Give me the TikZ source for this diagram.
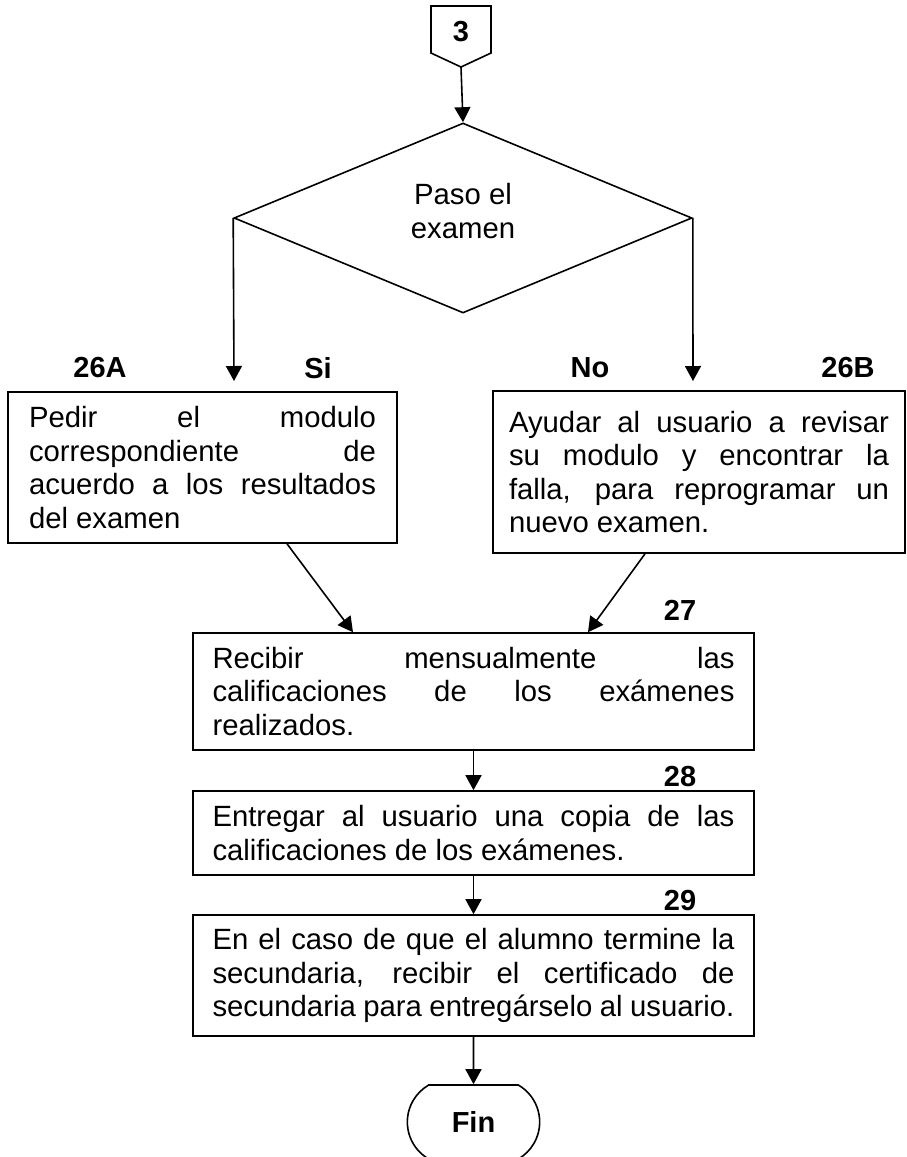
\documentclass[tikz,border=0pt]{standalone}
\usepackage{fontspec}
\setmainfont{Liberation Sans}
\usetikzlibrary{shapes.geometric,shapes.misc,arrows.meta}
\tolerance=10000
\hyphenpenalty=10000

\begin{document}
\begin{tikzpicture}[x=1pt, y=-1pt, line width=1.6pt,
    txt/.style={font=\fontsize{29.3}{33.5}\selectfont},
    lbl/.style={font=\fontsize{29}{33}\selectfont\bfseries},
    proc/.style={txt, draw, rectangle, align=justify, inner ysep=0pt},
    decision/.style={draw, diamond, inner sep=0pt, minimum width=458pt, minimum height=190pt},
    term/.style={lbl, draw, rounded rectangle, rounded rectangle arc length=120, minimum width=139pt, minimum height=74pt},
    flow/.style={-{Triangle[length=15pt,width=16pt]}}]
      \useasboundingbox (0,0) rectangle (906,1157);
      % Paths, nodes and wires:
      \node[lbl] (N1) at (461,32) {3};
      \draw (431,6) -- (491,6) -- (491,53) -- (461,67) coordinate (N1s) -- (431,53) -- cycle;
      \node[decision, label={[txt, align=center, yshift=7pt]center:Paso el\\examen}] (N2) at (463,218) {};
      \node[proc, text width=347pt, inner xsep=21pt, minimum height=151pt] (N3) at (202.5,467.5)
        {Pedir el modulo\linebreak correspondiente de\linebreak acuerdo a los resultados\linebreak del examen};
      \node[proc, text width=380pt, inner xsep=16pt, minimum height=162pt] (N4) at (699,472)
        {Ayudar al usuario a revisar\linebreak su modulo y encontrar la\linebreak falla, para reprogramar un\linebreak nuevo examen.};
      \node[proc, text width=522pt, inner xsep=19.5pt, minimum height=117pt] (N5) at (473.5,691.5)
        {Recibir mensualmente las\linebreak calificaciones de los exámenes\linebreak realizados.};
      \node[proc, text width=522pt, inner xsep=19.5pt, minimum height=84pt] (N6) at (473.5,833)
        {Entregar al usuario una copia de las\linebreak calificaciones de los exámenes.};
      \node[proc, text width=522pt, inner xsep=19.5pt, minimum height=121pt] (N7) at (473.5,975.5)
        {En el caso de que el alumno termine la\linebreak secundaria, recibir el certificado de\linebreak secundaria para entregárselo al usuario.};
      \node[term] (N8) at (473.5,1122) {Fin};
      % labels
      \node[lbl] (L1) at (100,368) {26A};
      \node[lbl] (L2) at (318,368) {Si};
      \node[lbl] (L3) at (590,368) {No};
      \node[lbl] (L4) at (848,368) {26B};
      \node[lbl] (L5) at (680,610) {27};
      \node[lbl] (L6) at (680,777) {28};
      \node[lbl] (L7) at (680,901) {29};
      % arrows
      \coordinate (A1) at (234,381);
      \coordinate (A2) at (693,381);
      \draw[flow] (N1s) -- (N2.north);
      \draw[flow] (N2.west) -- (A1);
      \draw[flow] (N2.east) -- (A2);
      \draw[flow] ([xshift=84.5pt]N3.south) -- ([xshift=-120.5pt]N5.north);
      \draw[flow] ([xshift=-54pt]N4.south) -- ([xshift=114.5pt]N5.north);
      \draw[flow] (N5) -- (N6);
      \draw[flow] (N6) -- (N7);
      \draw[flow] (N7) -- (N8);
\end{tikzpicture}
\end{document}
